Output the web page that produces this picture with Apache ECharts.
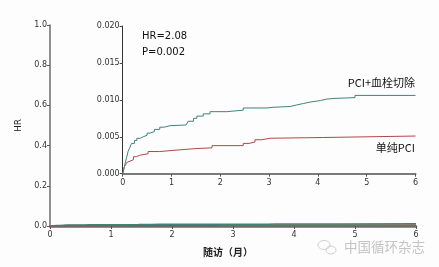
<!DOCTYPE html>
<html><head><meta charset="utf-8">
<script src="https://cdn.jsdelivr.net/npm/echarts@6/dist/echarts.min.js"></script>
<style>html,body{margin:0;padding:0;background:#fdfdfd}#c{width:439px;height:267px}</style>
</head><body><div id="c"></div>
<script>
// Data (months, cumulative incidence)
const xTicks = [0, 1, 2, 3, 4, 5, 6];
const mainYTicks = [0, 0.2, 0.4, 0.6, 0.8, 1.0];
const insetYTicks = [0, 0.005, 0.010, 0.015, 0.020];
const greenT = [0, 0.03, 0.05, 0.08, 0.11, 0.15, 0.18, 0.24, 0.29, 0.36, 0.42, 0.5, 0.56, 0.65, 0.76, 0.85, 0.97, 1.3, 1.34, 1.45, 1.52, 1.65, 1.79, 2.13, 2.47, 2.95, 3.1, 3.43, 3.56, 3.7, 3.84, 4.05, 4.18, 4.35, 4.76, 6];
const greenV = [0, 0.0008, 0.0014, 0.0022, 0.0030, 0.0036, 0.0041, 0.0045, 0.0048, 0.0050, 0.0052, 0.0055, 0.0057, 0.0060, 0.0063, 0.0065, 0.0066, 0.0067, 0.0071, 0.0075, 0.0078, 0.0081, 0.0084, 0.0086, 0.0089, 0.0090, 0.0091, 0.0093, 0.0095, 0.0097, 0.0099, 0.0101, 0.0102, 0.0103, 0.0106, 0.0106];
const redT = [0, 0.03, 0.06, 0.08, 0.12, 0.15, 0.22, 0.28, 0.35, 0.52, 0.76, 1.11, 1.5, 1.83, 2.47, 2.59, 2.71, 2.85, 3.02, 4.10, 6];
const redV = [0, 0.0009, 0.0012, 0.0015, 0.0017, 0.0019, 0.0023, 0.0025, 0.0027, 0.0030, 0.0032, 0.0034, 0.0035, 0.0038, 0.0041, 0.0043, 0.0046, 0.0048, 0.0049, 0.0051, 0.0051];
const greenName = 'PCI+血栓切除';
const redName = '单纯PCI';
const statText = ['HR=2.08', 'P=0.002'];

const green = greenT.map((t, i) => [t, greenV[i]]);
const red = redT.map((t, i) => [t, redV[i]]);
const GREEN = '#3f8377', RED = '#b0474a';
const lbl = {color: '#333', fontSize: 8, fontFamily: 'DejaVu Sans'};

const chart = echarts.init(document.getElementById('c'), null, {renderer: 'canvas'});
chart.setOption({
  backgroundColor: '#fdfdfd',
  animation: false,
  grid: [
    {left: 50, top: 25, right: 23, bottom: 41},
    {left: 122.7, top: 26, right: 23.5, bottom: 93.3}
  ],
  xAxis: [
    {gridIndex: 0, type: 'value', min: 0, max: 6, interval: 1,
     axisLine: {lineStyle: {color: '#6f6a6a', width: 2.5}},
     axisTick: {length: 3, lineStyle: {color: '#555'}},
     axisLabel: Object.assign({margin: 5}, lbl),
     splitLine: {show: false},
     name: '随访（月）', nameLocation: 'middle', nameGap: 21,
     nameTextStyle: {color: '#222', fontSize: 10, fontWeight: 'bold', fontFamily: 'Noto Sans CJK SC', padding: [0, 10, 0, 0]}},
    {gridIndex: 1, type: 'value', min: 0, max: 6, interval: 1,
     axisLine: {lineStyle: {color: '#7a7a7a', width: 2}},
     axisTick: {length: 3, lineStyle: {color: '#555'}},
     axisLabel: Object.assign({margin: 5}, lbl),
     splitLine: {show: false}}
  ],
  yAxis: [
    {gridIndex: 0, type: 'value', min: 0, max: 1, interval: 0.2,
     axisLine: {show: true, lineStyle: {color: '#6f6a6a', width: 1.5}},
     axisTick: {show: true, length: 3, lineStyle: {color: '#555'}},
     axisLabel: Object.assign({margin: 3, formatter: v => v.toFixed(1)}, lbl),
     splitLine: {show: false},
     name: 'HR', nameLocation: 'middle', nameGap: 25,
     nameTextStyle: {color: '#222', fontSize: 9, fontFamily: 'DejaVu Sans'}},
    {gridIndex: 1, type: 'value', min: 0, max: 0.02, interval: 0.005,
     axisLine: {show: true, lineStyle: {color: '#333', width: 1}},
     axisTick: {show: true, length: 3, lineStyle: {color: '#444'}},
     axisLabel: Object.assign({margin: 3, formatter: v => v.toFixed(3)}, lbl),
     splitLine: {show: false}}
  ],
  series: [
    {type: 'line', xAxisIndex: 0, yAxisIndex: 0, data: red, step: 'end', showSymbol: false, lineStyle: {color: RED, width: 1.5}},
    {type: 'line', xAxisIndex: 0, yAxisIndex: 0, data: green, step: 'end', showSymbol: false, lineStyle: {color: GREEN, width: 1.5}},
    {name: redName, type: 'line', xAxisIndex: 1, yAxisIndex: 1, data: red, step: 'end', showSymbol: false, lineStyle: {color: RED, width: 1}},
    {name: greenName, type: 'line', xAxisIndex: 1, yAxisIndex: 1, data: green, step: 'end', showSymbol: false, lineStyle: {color: GREEN, width: 1}}
  ],
  graphic: [
    {type: 'text', left: 142, top: 31, style: {text: statText[0], fill: '#111', font: '10px "DejaVu Sans"'}},
    {type: 'text', left: 142, top: 47, style: {text: statText[1], fill: '#111', font: '10px "DejaVu Sans"'}},
    {type: 'text', right: 24, top: 77, style: {text: greenName, fill: '#111', font: '11px "Noto Sans CJK SC"'}},
    {type: 'text', right: 24, top: 142, style: {text: redName, fill: '#111', font: '11px "Noto Sans CJK SC"'}},
    {type: 'text', left: 344, top: 240, style: {text: '中国循环杂志', fill: '#c4c4c4', font: '13.5px "Noto Sans CJK SC"'}},
    {type: 'ellipse', shape: {cx: 324, cy: 245, rx: 6, ry: 4.5}, style: {fill: 'none', stroke: '#cfcfcf', lineWidth: 1}},
    {type: 'ellipse', shape: {cx: 331, cy: 250, rx: 5, ry: 4}, style: {fill: 'none', stroke: '#cfcfcf', lineWidth: 1}}
  ]
});
</script></body></html>
